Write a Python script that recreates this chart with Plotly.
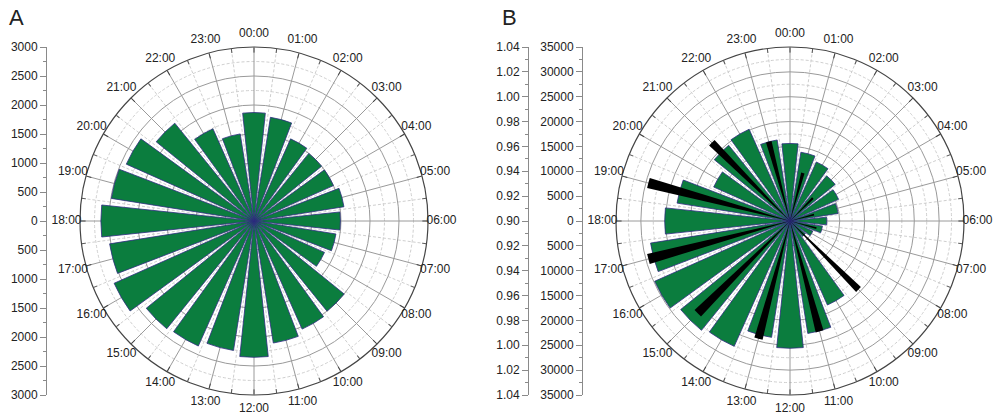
import plotly.graph_objects as go

W, H = 1005, 415

# ---------------- data ----------------
hour_labels = ["00:00", "01:00", "02:00", "03:00", "04:00", "05:00", "06:00", "07:00",
               "08:00", "09:00", "10:00", "11:00", "12:00", "13:00", "14:00", "15:00",
               "16:00", "17:00", "18:00", "19:00", "20:00", "21:00", "22:00", "23:00"]
hour_angles = [i * 15 for i in range(24)]
half_hour_angles = [i * 15 + 7.5 for i in range(24)]

# Panel A: counts per hour
a_counts = [1870, 1810, 1550, 1500, 1500, 1570, 1490, 1430, 1330, 2000, 2040, 2130,
            2350, 2260, 2360, 2390, 2640, 2520, 2640, 2490, 2410, 2170, 1740, 1520]

# Panel B: counts per hour (green) and ratio at odd hours (black)
b_counts = [15600, 14000, 13000, 11700, 10700, 9800, 7400, 6600, 5000, 4000, 18500, 22900,
            25600, 23700, 27600, 28300, 29800, 28400, 25200, 23000, 16800, 19600, 20200, 16500]
b_ratio_labels = ["01:00", "03:00", "05:00", "07:00", "09:00", "11:00",
                  "13:00", "15:00", "17:00", "19:00", "21:00", "23:00"]
b_ratio = [0.940, 0.926, 0.920, 0.922, 0.978, 0.992, 0.998, 1.005, 1.018, 1.018, 0.989, 0.966]

# side axis tick labels
a_axis_vals = [-3000, -2500, -2000, -1500, -1000, -500, 0, 500, 1000, 1500, 2000, 2500, 3000]
a_axis_text = ["3000", "2500", "2000", "1500", "1000", "500", "0",
               "500", "1000", "1500", "2000", "2500", "3000"]
b_ratio_vals = [-0.14, -0.12, -0.10, -0.08, -0.06, -0.04, -0.02, 0, 0.02, 0.04, 0.06, 0.08, 0.10, 0.12, 0.14]
b_ratio_text = ["1.04", "1.02", "1.00", "0.98", "0.96", "0.94", "0.92", "0.90",
                "0.92", "0.94", "0.96", "0.98", "1.00", "1.02", "1.04"]
b_axis_vals = [-35000, -30000, -25000, -20000, -15000, -10000, -5000, 0,
               5000, 10000, 15000, 20000, 25000, 30000, 35000]
b_axis_text = ["35000", "30000", "25000", "20000", "15000", "10000", "5000", "0",
               "5000", "10000", "15000", "20000", "25000", "30000", "35000"]

ratio_base = 0.90
hour_to_angle = dict(zip(hour_labels, hour_angles))

# ---------------- style ----------------
GREEN = "#0b7d3e"
OUTLINE = "#2f2c80"
FONT = "Liberation Sans, Arial, sans-serif"
TXT = "#222222"

R = 174              # polar radius in px
LABEL_POLAR_R = 194  # radius of the invisible polar carrying hour labels (px)
LABEL_R = 187.5      # hour labels centred on this radius (px)
CY = 221
def xdom(cx, r=R):
    return [(cx - r) / W, (cx + r) / W]
def ydom(r=R):
    return [max(0.0, 1 - (CY + r) / H), min(1.0, 1 - (CY - r) / H)]

fig = go.Figure()

def grid_polar(cx, rmax, dash_vals):
    return dict(
        domain=dict(x=xdom(cx), y=ydom()),
        bgcolor="white",
        angularaxis=dict(rotation=90, direction="clockwise", tickmode="array",
                         tickvals=half_hour_angles, ticktext=["" for _ in half_hour_angles],
                         ticks="inside", ticklen=4, tickcolor="#555", showline=False,
                         showgrid=True, gridcolor="#cfcfcf", griddash="3px,2px", gridwidth=1,
                         layer="below traces"),
        radialaxis=dict(range=[0, rmax], tickmode="array", tickvals=dash_vals,
                        showticklabels=False, ticks="", showline=False,
                        showgrid=True, gridcolor="#cfcfcf", griddash="3px,2px", gridwidth=1,
                        layer="below traces"),
    )

def main_polar(cx, rmax, solid_vals):
    return dict(
        domain=dict(x=xdom(cx), y=ydom()),
        bgcolor="rgba(0,0,0,0)",
        angularaxis=dict(rotation=90, direction="clockwise", tickmode="array",
                         tickvals=hour_angles, ticktext=["" for _ in hour_angles],
                         ticks="inside", ticklen=5, tickcolor="#444",
                         showline=True, linecolor="#444", linewidth=1.2,
                         showgrid=True, gridcolor="#9a9a9a", gridwidth=1,
                         layer="below traces"),
        radialaxis=dict(range=[0, rmax], tickmode="array", tickvals=solid_vals,
                        showticklabels=False, ticks="", showline=False,
                        showgrid=True, gridcolor="#9a9a9a", gridwidth=1,
                        layer="below traces"),
    )

def label_polar(cx):
    return dict(
        domain=dict(x=xdom(cx, LABEL_POLAR_R), y=ydom(LABEL_POLAR_R)),
        bgcolor="rgba(0,0,0,0)",
        angularaxis=dict(rotation=90, direction="clockwise", showgrid=False, showline=False,
                         showticklabels=False, ticks=""),
        radialaxis=dict(range=[0, LABEL_POLAR_R], showgrid=False, showline=False,
                        showticklabels=False, ticks=""),
    )

a_dash = [250, 750, 1250, 1750, 2250, 2750]
a_solid = [500, 1000, 1500, 2000, 2500]
b_dash = [2500, 7500, 12500, 17500, 22500, 27500, 32500]
b_solid = [5000, 10000, 15000, 20000, 25000, 30000]
A_MAX, B_MAX = 3000, 35000

def hour_text(subplot):
    return go.Scatterpolar(r=[LABEL_R] * len(hour_labels),
                           theta=[hour_to_angle[h] for h in hour_labels],
                           text=hour_labels, mode="text", textposition="middle center",
                           textfont=dict(family=FONT, size=12, color=TXT),
                           cliponaxis=False, subplot=subplot, showlegend=False,
                           hoverinfo="skip")

# Panel A
fig.add_trace(go.Barpolar(r=[0], theta=[0], subplot="polar", marker_color="rgba(0,0,0,0)",
                          showlegend=False, hoverinfo="skip"))
fig.add_trace(go.Barpolar(r=a_counts, theta=[hour_to_angle[h] for h in hour_labels], width=12,
                          subplot="polar2", marker=dict(color=GREEN, line=dict(color=OUTLINE, width=0.8)),
                          showlegend=False))
# Panel B
fig.add_trace(go.Barpolar(r=[0], theta=[0], subplot="polar3", marker_color="rgba(0,0,0,0)",
                          showlegend=False, hoverinfo="skip"))
fig.add_trace(go.Barpolar(r=b_counts, theta=[hour_to_angle[h] for h in hour_labels], width=12,
                          subplot="polar4", marker=dict(color=GREEN, line=dict(color=OUTLINE, width=0.8)),
                          showlegend=False))
fig.add_trace(go.Barpolar(r=[v - ratio_base for v in b_ratio],
                          theta=[hour_to_angle[h] for h in b_ratio_labels], width=4,
                          subplot="polar5", marker=dict(color="black", line=dict(color="black", width=0)),
                          showlegend=False))
# hour labels
fig.add_trace(hour_text("polar6"))
fig.add_trace(hour_text("polar7"))

fig.update_layout(
    polar=grid_polar(254, A_MAX, a_dash),
    polar2=main_polar(254, A_MAX, a_solid),
    polar3=grid_polar(790, B_MAX, b_dash),
    polar4=main_polar(790, B_MAX, b_solid),
    polar5=dict(
        domain=dict(x=xdom(790), y=ydom()),
        bgcolor="rgba(0,0,0,0)",
        angularaxis=dict(rotation=90, direction="clockwise", showgrid=False, showline=False,
                         showticklabels=False, ticks=""),
        radialaxis=dict(range=[0, 1.04 - ratio_base], showgrid=False, showline=False,
                        showticklabels=False, ticks=""),
    ),
    polar6=label_polar(254),
    polar7=label_polar(790),
)

# side linear axes (empty traces to instantiate them)
fig.add_trace(go.Scatter(x=[], y=[], xaxis="x", yaxis="y", showlegend=False))
fig.add_trace(go.Scatter(x=[], y=[], xaxis="x", yaxis="y2", showlegend=False))
fig.add_trace(go.Scatter(x=[], y=[], xaxis="x", yaxis="y3", showlegend=False))

def side_axis(rng, vals, text, pos, minor_vals, overlay=None):
    d = dict(range=rng, domain=ydom(), anchor="free", position=pos, side="left",
             automargin=False,
             tickmode="array", tickvals=vals, ticktext=text,
             ticks="outside", ticklen=6, tickcolor="#8a8a8a", tickwidth=1,
             showline=True, linecolor="#8a8a8a", linewidth=1,
             showgrid=False, zeroline=False, fixedrange=True,
             tickfont=dict(family=FONT, size=12, color=TXT),
             minor=dict(tickmode="array", tickvals=minor_vals, ticks="outside",
                        ticklen=3, tickcolor="#8a8a8a", showgrid=False))
    if overlay:
        d["overlaying"] = overlay
    return d

a_minor = [v + 250 for v in a_axis_vals[:-1]]
b_ratio_minor = [round(v + 0.01, 3) for v in b_ratio_vals[:-1]]
b_minor = [v + 2500 for v in b_axis_vals[:-1]]

fig.update_layout(
    xaxis=dict(domain=[0, 0.02], visible=False, range=[0, 1], automargin=False),
    yaxis=side_axis([-3000, 3000], a_axis_vals, a_axis_text, 46 / W, a_minor),
    yaxis2=side_axis([-0.14, 0.14], b_ratio_vals, b_ratio_text, 528 / W, b_ratio_minor, "y"),
    yaxis3=side_axis([-35000, 35000], b_axis_vals, b_axis_text, 582 / W, b_minor, "y"),
)

fig.add_annotation(text="A", x=7 / W, y=1 - 3 / H, xref="paper", yref="paper",
                   xanchor="left", yanchor="top", showarrow=False,
                   font=dict(family=FONT, size=22, color=TXT))
fig.add_annotation(text="B", x=500 / W, y=1 - 3 / H, xref="paper", yref="paper",
                   xanchor="left", yanchor="top", showarrow=False,
                   font=dict(family=FONT, size=22, color=TXT))

fig.update_layout(template="none", width=W, height=H, autosize=False,
                  margin=dict(l=0, r=0, t=0, b=0, pad=0, autoexpand=False),
                  paper_bgcolor="white", plot_bgcolor="rgba(0,0,0,0)",
                  font=dict(family=FONT, size=12, color=TXT), showlegend=False)

fig.write_html("out.html")
